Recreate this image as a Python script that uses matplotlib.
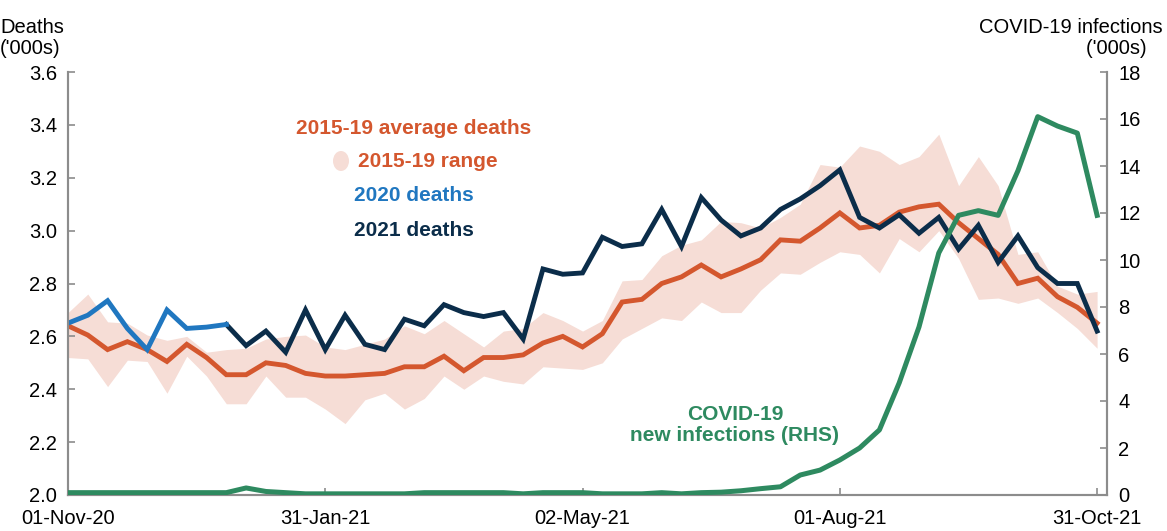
import matplotlib
matplotlib.use("Agg")
import matplotlib.pyplot as plt
import numpy as np

plt.rcParams["font.family"] = ["Liberation Sans", "DejaVu Sans"]

# weekly points, 01-Nov-20 .. 31-Oct-21
tick_pos = [0, 13, 26, 39, 52]
tick_labels = ["01-Nov-20", "31-Jan-21", "02-May-21", "01-Aug-21", "31-Oct-21"]

avg_1519 = [2.64, 2.605, 2.55, 2.58, 2.55, 2.505, 2.57, 2.52, 2.455, 2.455,
            2.50, 2.49, 2.46, 2.45, 2.45, 2.455, 2.46, 2.485, 2.485, 2.525,
            2.47, 2.52, 2.52, 2.53, 2.575, 2.60, 2.56, 2.61, 2.73, 2.74,
            2.80, 2.825, 2.87, 2.825, 2.855, 2.89, 2.965, 2.96, 3.01, 3.067,
            3.01, 3.02, 3.07, 3.09, 3.10, 3.03, 2.97, 2.91, 2.80, 2.82,
            2.75, 2.71, 2.65]

range_hi = [2.69, 2.76, 2.655, 2.65, 2.605, 2.585, 2.60, 2.54, 2.55, 2.555,
            2.59, 2.60, 2.605, 2.56, 2.55, 2.57, 2.59, 2.64, 2.61, 2.66,
            2.61, 2.56, 2.62, 2.63, 2.69, 2.66, 2.62, 2.66, 2.81, 2.815,
            2.905, 2.945, 2.965, 3.035, 3.03, 3.01, 3.05, 3.10, 3.25, 3.24,
            3.32, 3.30, 3.25, 3.28, 3.365, 3.17, 3.28, 3.17, 2.91, 2.92,
            2.79, 2.76, 2.77]

range_lo = [2.52, 2.515, 2.41, 2.51, 2.505, 2.385, 2.525, 2.45, 2.345, 2.345,
            2.45, 2.37, 2.37, 2.325, 2.27, 2.36, 2.385, 2.325, 2.365, 2.45,
            2.40, 2.45, 2.43, 2.42, 2.485, 2.48, 2.475, 2.50, 2.59, 2.63,
            2.67, 2.66, 2.73, 2.69, 2.69, 2.775, 2.84, 2.835, 2.88, 2.92,
            2.91, 2.84, 2.97, 2.92, 3.00, 2.895, 2.74, 2.745, 2.725, 2.745,
            2.69, 2.63, 2.555]

deaths_2020 = [2.65, 2.68, 2.735, 2.63, 2.55, 2.70, 2.63, 2.635, 2.645]

deaths_2021 = [2.645, 2.565, 2.62, 2.54, 2.70, 2.55, 2.68, 2.57, 2.55, 2.665,
               2.64, 2.72, 2.69, 2.675, 2.69, 2.59, 2.855, 2.835, 2.84, 2.975,
               2.94, 2.95, 3.08, 2.94, 3.125, 3.04, 2.98, 3.01, 3.08, 3.12,
               3.17, 3.23, 3.05, 3.01, 3.06, 2.99, 3.05, 2.93, 3.02, 2.88,
               2.98, 2.86, 2.80, 2.80, 2.62]  # starts at week 8

covid_inf = [0.1, 0.1, 0.1, 0.1, 0.1, 0.1, 0.1, 0.1, 0.1, 0.3,
             0.15, 0.1, 0.05, 0.05, 0.05, 0.05, 0.05, 0.05, 0.1, 0.1,
             0.1, 0.1, 0.1, 0.05, 0.1, 0.1, 0.1, 0.05, 0.05, 0.05,
             0.1, 0.05, 0.1, 0.12, 0.18, 0.27, 0.35, 0.85, 1.06, 1.49,
             2.0, 2.77, 4.77, 7.15, 10.3, 11.9, 12.1, 11.9, 13.8, 16.1,
             15.7, 15.4, 11.9]

c_avg = "#D4572E"
c_band = "#F6DDD6"
c_2020 = "#2077C0"
c_2021 = "#0B2D4A"
c_covid = "#2E8A60"
c_spine = "#8C8C8C"

weeks = np.arange(len(avg_1519))
w2020 = np.arange(len(deaths_2020))
w2021 = np.arange(8, 8 + len(deaths_2021))

fig = plt.figure(figsize=(11.67, 5.31), dpi=100)
ax = fig.add_axes([68 / 1167, 1 - 495 / 531, (1107 - 68) / 1167, (495 - 72) / 531])
ax2 = ax.twinx()

ax.fill_between(weeks, range_lo, range_hi, color=c_band, lw=0, zorder=1)
ax.plot(weeks, avg_1519, color=c_avg, lw=3.5, zorder=3, solid_joinstyle="miter")
ax.plot(w2021, deaths_2021, color=c_2021, lw=3.5, zorder=4, solid_joinstyle="miter")
ax.plot(w2020, deaths_2020, color=c_2020, lw=3.5, zorder=5, solid_joinstyle="miter")
ax2.plot(weeks, covid_inf, color=c_covid, lw=3.6, zorder=6)

ax.set_xlim(0, 52.5)
ax.set_ylim(2.0, 3.6)
ax2.set_ylim(0, 18)
yt = np.arange(2.0, 3.61, 0.2)
ax.set_yticks(yt)
ax.set_yticklabels([f"{v:.1f}" for v in yt])
ax2.set_yticks(np.arange(0, 19, 2))
ax.set_xticks(tick_pos)
ax.set_xticklabels(tick_labels)

for a in (ax, ax2):
    a.spines["top"].set_visible(False)
    for side in ("left", "right", "bottom"):
        a.spines[side].set_color(c_spine)
        a.spines[side].set_linewidth(1.5)
    a.tick_params(direction="in", length=5, width=1.2, color=c_spine,
                  labelsize=14.5, labelcolor="black")
ax.tick_params(axis="x", pad=10)
ax.tick_params(axis="y", pad=8)
ax2.tick_params(axis="y", pad=8)
ax.patch.set_visible(False)
ax2.patch.set_visible(False)

fig.text(0.0, 1 - 18 / 531, "Deaths\n('000s)", ha="left", va="top",
         fontsize=14.5, linespacing=1.15)
fig.text(1163 / 1167, 1 - 18 / 531, "COVID-19 infections\n('000s)   ",
         ha="right", va="top", fontsize=14.5, linespacing=1.15, multialignment="right")

lx = 414
fig.text(lx / 1167, 1 - 128 / 531, "2015-19 average deaths", color=c_avg,
         ha="center", va="center", fontsize=15, fontweight="bold")
fig.text(428 / 1167, 1 - 161 / 531, "2015-19 range", color=c_avg,
         ha="center", va="center", fontsize=15, fontweight="bold")
fig.patches.append(matplotlib.patches.Ellipse((341 / 1167, 1 - 161 / 531), 16 / 1167, 20 / 531,
                                              transform=fig.transFigure, color=c_band, lw=0))
fig.text(lx / 1167, 1 - 195 / 531, "2020 deaths", color=c_2020,
         ha="center", va="center", fontsize=15, fontweight="bold")
fig.text(lx / 1167, 1 - 230 / 531, "2021 deaths", color=c_2021,
         ha="center", va="center", fontsize=15, fontweight="bold")
fig.text(735 / 1167, 1 - 425 / 531, "COVID-19\nnew infections (RHS)", color=c_covid,
         ha="center", va="center", fontsize=15, fontweight="bold", linespacing=1.1)

fig.savefig("out.png", dpi=100)
